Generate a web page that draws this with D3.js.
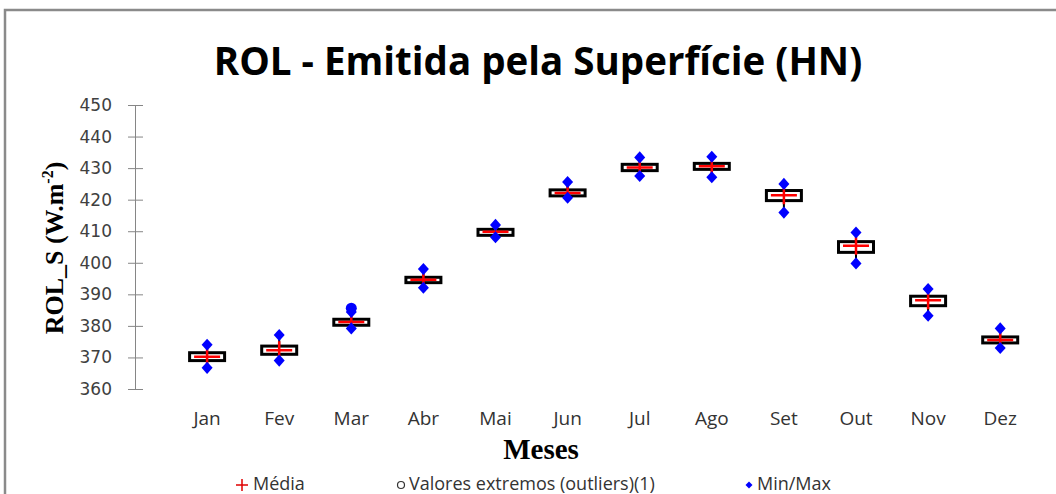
<!doctype html>
<html lang="pt">
<head>
<meta charset="utf-8" />
<title>ROL - Emitida pela Superfície (HN)</title>
<script src="https://d3js.org/d3.v7.min.js"></script>
<style>
  body { margin: 0; background: #fff; }
  text { font-family: "Open Sans", sans-serif; }
</style>
</head>
<body>
<div id="chart"></div>
<script>
// months and box plot statistics (W.m-2)
const months = ["Jan", "Fev", "Mar", "Abr", "Mai", "Jun", "Jul", "Ago", "Set", "Out", "Nov", "Dez"];
const minVals = [366.7, 369.0, 379.2, 392.1, 408.1, 420.6, 427.5, 427.1, 415.9, 399.8, 383.2, 373.0];
const q1Vals = [369.0, 371.0, 380.2, 393.7, 408.7, 421.2, 429.2, 429.6, 419.7, 403.3, 386.4, 374.6];
const q3Vals = [371.5, 373.6, 382.1, 395.4, 410.6, 423.1, 431.2, 431.5, 422.9, 406.7, 389.4, 376.5];
const maxVals = [374.0, 377.1, 384.4, 398.0, 412.0, 425.6, 433.4, 433.6, 425.0, 409.6, 391.7, 379.2];
const meanVals = [370.2, 372.3, 381.2, 394.6, 409.8, 422.1, 430.2, 430.6, 421.4, 405.4, 388.1, 375.5];
const outlierMonths = ["Mar"];
const outlierVals = [385.6];
const yTicks = [360, 370, 380, 390, 400, 410, 420, 430, 440, 450];
const legendLabels = ["Média", "Valores extremos (outliers)(1)", "Min/Max"];

const W = 1056, H = 494;
const svg = d3.select("#chart").append("svg")
  .attr("width", W).attr("height", H);

// frame (only top and left edges visible)
svg.append("path")
  .attr("d", `M5,${H} L5,10 L${W},10`)
  .attr("fill", "none").attr("stroke", "#8a8a8a").attr("stroke-width", 2.5);

const x = d3.scaleLinear().domain([0, 13]).range([135, 135 + 72.1 * 13]);
const y = d3.scaleLinear().domain([360, 450]).range([389, 105]);

// title
svg.append("text")
  .attr("x", 538).attr("y", 75)
  .attr("text-anchor", "middle")
  .style("font-size", "38.5px").style("font-weight", "bold")
  .attr("fill", "#000")
  .text("ROL - Emitida pela Superfície (HN)");

// y axis
const yAxis = svg.append("g")
  .attr("transform", `translate(${x(0)},0)`)
  .call(d3.axisLeft(y).tickValues(yTicks).tickSizeInner(7).tickSizeOuter(0).tickPadding(16));
yAxis.select(".domain").attr("stroke", "#868686");
yAxis.selectAll(".tick line").attr("stroke", "#868686").attr("x2", 8).attr("x1", -7);
yAxis.selectAll(".tick text")
  .attr("fill", "#404040")
  .style("font-size", "17px")
  .style("font-family", "'DejaVu Sans', sans-serif");

svg.append("text")
  .attr("transform", `translate(63,248) rotate(-90)`)
  .attr("text-anchor", "middle")
  .style("font-family", "'Liberation Serif', 'Times New Roman', serif")
  .style("font-size", "26px").style("font-weight", "bold")
  .text("ROL_S (W.m")
  .append("tspan").attr("dy", -10).style("font-size", "16px").text("-2")
  .select(function () { return this.parentNode; })
  .append("tspan").attr("dy", 10).text(")");

// x labels
svg.append("g").selectAll("text")
  .data(months).join("text")
  .attr("x", (d, i) => x(i + 1))
  .attr("y", 425)
  .attr("text-anchor", "middle")
  .attr("fill", "#333")
  .style("font-size", "19px")
  .text(d => d);

svg.append("text")
  .attr("x", 541).attr("y", 459)
  .attr("text-anchor", "middle")
  .style("font-family", "'Liberation Serif', 'Times New Roman', serif")
  .style("font-size", "29px").style("font-weight", "bold")
  .text("Meses");

// boxes
const boxes = svg.append("g").selectAll("g")
  .data(months).join("g")
  .attr("transform", (d, i) => `translate(${x(i + 1)},0)`);

boxes.append("line")
  .attr("y1", (d, i) => y(minVals[i])).attr("y2", (d, i) => y(maxVals[i]))
  .attr("stroke", "#000").attr("stroke-width", 2);

boxes.append("rect")
  .attr("x", -17.5).attr("width", 35)
  .attr("y", (d, i) => y(q3Vals[i]))
  .attr("height", (d, i) => y(q1Vals[i]) - y(q3Vals[i]))
  .attr("fill", "#fff").attr("stroke", "#000").attr("stroke-width", 3);

// mean markers
boxes.append("path")
  .attr("d", (d, i) => {
    const m = y(meanVals[i]);
    return `M-13,${m} H13 M0,${m - 9} V${m + 9}`;
  })
  .attr("stroke", "#ff0000").attr("stroke-width", 2.5).attr("fill", "none");

// min/max diamonds
const diamondPath = (cy, r) => `M0,${cy - r * 1.1} L${r},${cy} L0,${cy + r * 1.1} L${-r},${cy} Z`;
boxes.append("path")
  .attr("d", (d, i) => diamondPath(y(minVals[i]), 5.5))
  .attr("fill", "#0000ff");
boxes.append("path")
  .attr("d", (d, i) => diamondPath(y(maxVals[i]), 5.5))
  .attr("fill", "#0000ff");

// outliers
svg.append("g").selectAll("circle")
  .data(outlierVals).join("circle")
  .attr("cx", (d, i) => x(months.indexOf(outlierMonths[i]) + 1))
  .attr("cy", d => y(d))
  .attr("r", 5.5)
  .attr("fill", "#0000ff");

// legend
const lg = svg.append("g").style("font-size", "18px");
lg.append("path").attr("d", "M236,485 H248 M242,479 V491")
  .attr("stroke", "#e00000").attr("stroke-width", 1.5);
lg.append("text").attr("x", 253).attr("y", 490).attr("fill", "#333").text(legendLabels[0]);
lg.append("circle").attr("cx", 401).attr("cy", 485).attr("r", 3.5)
  .attr("fill", "none").attr("stroke", "#333").attr("stroke-width", 1.2);
lg.append("text").attr("x", 409).attr("y", 490).attr("fill", "#333").text(legendLabels[1]);
lg.append("path").attr("d", "M749,481.5 L752.5,485 L749,488.5 L745.5,485 Z")
  .attr("fill", "#0000ff");
lg.append("text").attr("x", 757).attr("y", 490).attr("fill", "#333").text(legendLabels[2]);
</script>
</body>
</html>
